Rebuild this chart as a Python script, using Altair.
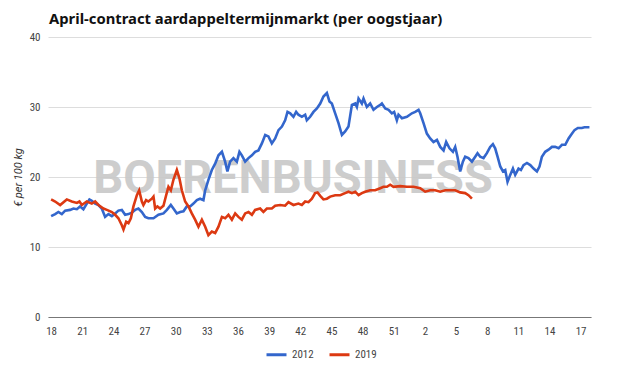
import altair as alt
import pandas as pd

# Week labels: index 0 = week 18 (oogstjaar), runs to week 17 of next year
tick_index = [0, 3, 6, 9, 12, 15, 18, 21, 24, 27, 30, 33, 36, 39, 42, 45, 48, 51]
tick_weeks = ["18", "21", "24", "27", "30", "33", "36", "39", "42", "45", "48", "51", "2", "5", "8", "11", "14", "17"]

# 2012 series: position in weeks since week 18, price (EUR per 100 kg)
pos_2012 = [0.0, 0.39, 0.70, 1.03, 1.35, 1.83, 2.15, 2.48, 2.79, 3.11, 3.44, 3.69, 3.92, 4.24, 4.56, 4.88,
            5.20, 5.52, 5.85, 6.17, 6.48, 6.81, 7.13, 7.45, 7.77, 8.09, 8.41, 8.74, 9.06, 9.37, 9.86, 10.34,
            10.82, 11.15, 11.53, 11.78, 12.11, 12.43, 12.75, 13.07, 13.39, 13.71, 14.04, 14.35, 14.67, 14.84,
            15.15, 15.48, 15.80, 16.12, 16.45, 16.76, 16.98, 17.24, 17.56, 17.89, 18.14, 18.37, 18.69, 19.01,
            19.34, 19.65, 19.97, 20.30, 20.62, 20.93, 21.26, 21.58, 21.90, 22.23, 22.54, 22.77, 23.03, 23.34,
            23.60, 23.82, 24.15, 24.47, 24.63, 24.95, 25.27, 25.60, 25.92, 26.23, 26.56, 26.81, 27.04, 27.36,
            27.68, 28.01, 28.32, 28.64, 28.97, 29.29, 29.45, 29.61, 29.93, 30.09, 30.41, 30.73, 31.05, 31.38,
            31.70, 31.86, 32.18, 32.50, 32.82, 33.04, 33.30, 33.46, 33.79, 34.27, 34.75, 35.07, 35.39, 35.55,
            35.87, 36.19, 36.51, 36.83, 37.16, 37.48, 37.80, 38.05, 38.37, 38.70, 38.92, 39.14, 39.40, 39.66,
            39.88, 40.20, 40.53, 40.85, 41.07, 41.33, 41.65, 41.97, 42.29, 42.55, 42.77, 43.00, 43.26, 43.52,
            43.74, 43.96, 44.22, 44.48, 44.70, 45.02, 45.25, 45.50, 45.83, 46.15, 46.47, 46.79, 47.04, 47.27,
            47.59, 47.91, 48.24, 48.55, 48.88, 49.20, 49.52, 49.84, 50.07, 50.41, 50.73, 51.12, 51.37, 51.70,
            51.85]
val_2012 = [14.4, 14.7, 15.0, 14.7, 15.2, 15.3, 15.5, 15.4, 15.8, 15.4, 16.2, 16.8, 16.6, 16.2, 16.0, 15.5,
            14.3, 14.7, 14.4, 14.8, 15.2, 15.3, 14.6, 14.7, 14.9, 15.3, 15.5, 15.0, 14.3, 14.1, 14.1, 14.6,
            14.8, 15.3, 16.0, 15.5, 14.8, 15.0, 15.1, 15.8, 15.8, 16.2, 16.7, 16.9, 16.7, 18.1,
            19.6, 21.0, 21.9, 23.1, 23.6, 22.2, 20.8, 22.2, 22.7, 22.2, 23.6, 23.1, 22.2, 22.7,
            23.1, 23.6, 23.8, 24.8, 26.0, 25.8, 24.8, 25.5, 26.7, 27.2, 28.1, 29.3, 29.1, 28.6,
            29.3, 28.9, 28.6, 28.9, 28.1, 28.6, 29.3, 29.8, 30.5, 31.5, 32.0, 30.8, 30.5, 29.1,
            27.7, 26.0, 26.5, 27.2, 30.3, 30.5, 30.0, 31.2, 30.5, 31.2, 30.0, 30.5, 29.6, 30.0,
            30.3, 30.5, 29.8, 29.6, 29.1, 29.3, 28.1, 28.9, 28.4, 28.6, 29.1, 29.3, 29.6, 29.1,
            27.7, 26.2, 25.5, 25.0, 25.3, 24.3, 23.8, 25.0, 24.1, 23.6, 24.3, 22.9, 20.8, 22.2,
            22.9, 22.7, 22.2, 22.9, 23.4, 22.9, 22.7, 23.4, 24.3, 24.7, 24.1, 22.9, 21.5, 20.8,
            21.0, 19.3, 20.3, 21.2, 20.3, 21.2, 21.0, 21.7, 22.0, 21.7, 21.2, 20.8, 21.5, 22.9,
            23.6, 23.9, 24.3, 24.3, 24.1, 24.6, 24.6, 25.5, 26.0, 26.7, 27.0, 27.0, 27.1, 27.1,
            27.1]

# 2019 series
pos_2019 = [0.0, 0.39, 0.87, 1.51, 1.99, 2.48, 2.73, 2.96, 3.44, 3.92, 4.24, 4.56, 5.04, 5.37, 5.85, 6.17,
            6.48, 6.81, 6.97, 7.23, 7.45, 7.68, 7.93, 8.26, 8.48, 8.74, 8.89, 9.15, 9.37, 9.70, 9.86, 10.02,
            10.24, 10.50, 10.82, 11.08, 11.30, 11.53, 11.78, 12.11, 12.36, 12.59, 12.91, 13.23, 13.55, 13.87,
            14.19, 14.52, 14.84, 15.15, 15.48, 15.80, 16.12, 16.45, 16.76, 17.08, 17.41, 17.73, 18.04, 18.37,
            18.69, 19.01, 19.34, 19.65, 20.13, 20.45, 20.78, 21.26, 21.58, 22.06, 22.54, 22.86, 23.34, 23.82,
            24.15, 24.47, 24.79, 25.12, 25.43, 25.66, 25.92, 26.23, 26.56, 26.88, 27.36, 27.84, 28.32, 28.64,
            28.97, 29.29, 29.61, 29.93, 30.25, 30.73, 31.21, 31.70, 32.01, 32.34, 32.66, 32.98, 33.62, 34.27,
            34.91, 35.55, 36.03, 36.51, 36.99, 37.48, 37.96, 38.44, 38.92, 39.40, 39.88, 40.20, 40.53]
val_2019 = [16.8, 16.5, 16.0, 16.8, 16.5, 16.3, 16.5, 16.0, 16.5, 16.2, 16.5, 16.0, 15.5, 15.3, 15.0, 14.6,
            14.1, 13.1, 12.5, 13.6, 13.4, 14.1, 15.8, 17.4, 18.1, 16.5, 16.0, 16.7, 16.5, 16.9, 17.2, 15.5,
            15.8, 15.5, 15.9, 17.4, 18.6, 18.1, 19.6, 21.0, 19.8, 18.1, 16.5, 15.8, 14.8, 13.9,
            12.9, 13.9, 12.9, 11.7, 12.2, 12.0, 12.9, 14.3, 14.1, 14.6, 13.9, 14.8, 14.3, 13.9,
            14.8, 15.0, 14.6, 15.3, 15.5, 15.0, 15.5, 15.5, 15.9, 16.0, 15.9, 16.4, 16.0, 16.2,
            16.0, 16.5, 16.4, 16.9, 17.7, 17.8, 17.3, 16.8, 16.9, 17.2, 17.4, 17.4, 17.7, 17.9,
            17.7, 17.9, 17.4, 17.7, 17.9, 18.1, 18.1, 18.4, 18.6, 18.6, 18.9, 18.6, 18.7, 18.6,
            18.6, 18.4, 17.9, 18.1, 18.1, 17.9, 18.1, 18.1, 18.1, 17.8, 17.7, 17.4, 16.9]

series_names = ["2012", "2019"]
series_colors = ["#3366cc", "#dc3912"]

df = pd.concat([
    pd.DataFrame({"pos": pos_2012, "prijs": val_2012, "jaar": series_names[0]}),
    pd.DataFrame({"pos": pos_2019, "prijs": val_2019, "jaar": series_names[1]}),
])

label_map = "{" + ",".join(f"'{i}':'{w}'" for i, w in zip(tick_index, tick_weeks)) + "}"
label_font = "Liberation Sans Narrow, Roboto Condensed, Roboto"

x_enc = alt.X("pos:Q",
              scale=alt.Scale(domain=[-0.3, 52], nice=False, zero=False),
              axis=alt.Axis(values=tick_index, labelExpr=f"{label_map}[toString(datum.value)]",
                            grid=False, ticks=False, domain=True, domainColor="#777777",
                            labelColor="#444444", labelFontSize=11, labelPadding=8,
                            labelFont=label_font, title=None))
y_enc = alt.Y("prijs:Q",
              scale=alt.Scale(domain=[0, 40], nice=False),
              axis=alt.Axis(values=[0, 10, 20, 30, 40], grid=True, gridColor="#dddddd",
                            ticks=False, domain=False, labelColor="#444444", labelFontSize=11,
                            labelFont=label_font,
                            labelPadding=8, title="€ per 100 kg", titleFontStyle="italic",
                            titleFontWeight="normal", titleFontSize=11, titleColor="#333333",
                            titleFont="Roboto", titlePadding=6))

watermark = alt.Chart(pd.DataFrame({"t": ["BOERENBUSINESS"]})).mark_text(
    font="Roboto", fontWeight="bold", fontSize=47, color="#c8c8c8", opacity=0.9,
    align="center", baseline="alphabetic"
).encode(text="t:N", x=alt.value(245), y=alt.value(156))

lines = alt.Chart(df).mark_line(strokeWidth=2.6, interpolate="linear").encode(
    x=x_enc, y=y_enc,
    color=alt.Color("jaar:N",
                    scale=alt.Scale(domain=series_names, range=series_colors),
                    legend=alt.Legend(orient="none", legendX=217, legendY=306,
                                      direction="horizontal", title=None,
                                      symbolType="stroke", symbolStrokeWidth=3, symbolSize=400,
                                      labelFontSize=11, labelColor="#444444", labelOffset=4,
                                      labelFont=label_font, columnPadding=9))
)

chart = alt.layer(watermark, lines).properties(
    width=543, height=280,
    autosize=alt.AutoSizeParams(type="none"),
    padding={"left": 40, "top": 29, "right": 26, "bottom": 44},
    title=alt.TitleParams("April-contract aardappeltermijnmarkt (per oogstjaar)",
                          anchor="start", frame="group", font="Noto Sans", fontSize=14.8,
                          fontWeight="bold", color="#111111", offset=4, dx=1),
).configure_view(stroke=None)

chart.save("out.html", embed_options={"renderer": "svg", "actions": False})
